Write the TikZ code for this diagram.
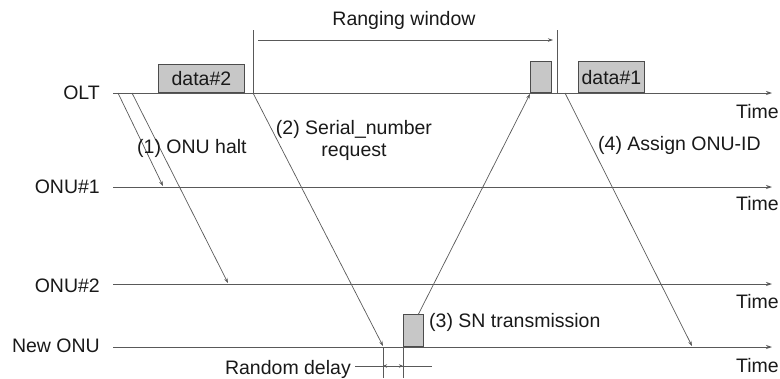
\documentclass[tikz,border=0pt]{standalone}
\usepackage{fontspec}
\setmainfont{Liberation Sans}
\usetikzlibrary{arrows.meta}

\begin{document}
\begin{tikzpicture}[x=1pt,y=-1pt,
  lbl/.style={inner sep=0pt, font=\fontsize{19.5}{22}\selectfont, text=black!90},
  axis/.style={draw=black!65, line width=0.8pt, -{Stealth[length=6pt,width=4pt]}},
  msg/.style={draw=black!65, line width=0.7pt, -{Stealth[length=5pt,width=3.5pt]}},
  thin/.style={draw=black!65, line width=0.7pt},
  slot/.style={draw=black!70, fill=black!22, line width=0.9pt, inner sep=0pt,
               font=\fontsize{19.5}{22}\selectfont, text=black!90},
]
\useasboundingbox (0,0) rectangle (780,378);

% station names
\node[lbl, anchor=east] (olt)  at (100,93)  {OLT};
\node[lbl, anchor=east] (onu1) at (100,187) {ONU\#1};
\node[lbl, anchor=east] (onu2) at (100,286) {ONU\#2};
\node[lbl, anchor=east] (onun) at (100,346) {New ONU};

% time axes
\coordinate (oltA) at (113,93);  \coordinate (oltB) at (772,93);
\coordinate (o1A)  at (113,187); \coordinate (o1B)  at (772,187);
\coordinate (o2A)  at (113,284); \coordinate (o2B)  at (772,284);
\coordinate (nA)   at (113,347); \coordinate (nB)   at (772,347);
\draw[axis] (oltA) -- (oltB);
\draw[axis] (o1A) -- (o1B);
\draw[axis] (o2A) -- (o2B);
\draw[axis] (nA) -- (nB);
\node[lbl, anchor=east] (t0) at (779,112) {Time};
\node[lbl, anchor=east] (t1) at (779,204) {Time};
\node[lbl, anchor=east] (t2) at (779,302) {Time};
\node[lbl, anchor=east] (t3) at (779,366) {Time};

% bursts
\node[slot, anchor=south west, minimum width=86, minimum height=28] (d2) at (158,93) {data\#2};
\node[slot, anchor=south west, minimum width=66, minimum height=31] (d1) at (578,93) {data\#1};
\node[slot, anchor=south west, minimum width=21, minimum height=31] (snr) at (530,93) {};
\node[slot, anchor=south west, minimum width=20, minimum height=32] (snt) at (403,347) {};

% ranging window
\coordinate (rwL0) at (253,30); \coordinate (rwL1) at (253,93);
\coordinate (rwR0) at (557,30); \coordinate (rwR1) at (557,93);
\draw[thin] (rwL0) -- (rwL1);
\draw[thin] (rwR0) -- (rwR1);
\coordinate (rwA) at (258,40); \coordinate (rwB) at (553,40);
\draw[msg] (rwA) -- (rwB);
\node[lbl] (rw) at (404,20) {Ranging window};

% (1) ONU halt
\coordinate (h1a) at (118,93);  \coordinate (h1b) at (163,186);
\coordinate (h2a) at (132,93);  \coordinate (h2b) at (228,283);
\draw[msg] (h1a) -- (h1b);
\draw[msg] (h2a) -- (h2b);
\node[lbl, anchor=west] (l1) at (137,148) {(1) ONU halt};

% (2) serial number request
\coordinate (s2a) at (253,93); \coordinate (s2b) at (383,346);
\draw[msg] (s2a) -- (s2b);
\node[lbl, align=center] (l2) at (354,140) {(2) Serial\_number\\request};

% (3) SN transmission
\coordinate (s3a) at (418,315); \coordinate (s3b) at (530,94);
\draw[msg] (s3a) -- (s3b);
\node[lbl, anchor=west] (l3) at (429,322) {(3) SN transmission};

% (4) assign ONU-ID
\coordinate (s4a) at (565,93); \coordinate (s4b) at (692,346);
\draw[msg] (s4a) -- (s4b);
\node[lbl, anchor=west] (l4) at (598,145) {(4) Assign ONU-ID};

% random delay
\coordinate (rd1a) at (383,347); \coordinate (rd1b) at (383,378);
\coordinate (rd2a) at (403,347); \coordinate (rd2b) at (403,378);
\draw[thin] (rd1a) -- (rd1b);
\draw[thin] (rd2a) -- (rd2b);
\coordinate (rdL) at (355,366); \coordinate (rdR) at (432,366);
\coordinate (rdM1) at (383,366); \coordinate (rdM2) at (403,366);
\draw[thin] (rdL) -- (rdR);
\draw[thin, {Stealth[length=4pt,width=3.5pt]}-{Stealth[length=4pt,width=3.5pt]}] (rdM1) -- (rdM2);
\node[lbl, anchor=east] (rd) at (351,369) {Random delay};
\end{tikzpicture}
\end{document}
